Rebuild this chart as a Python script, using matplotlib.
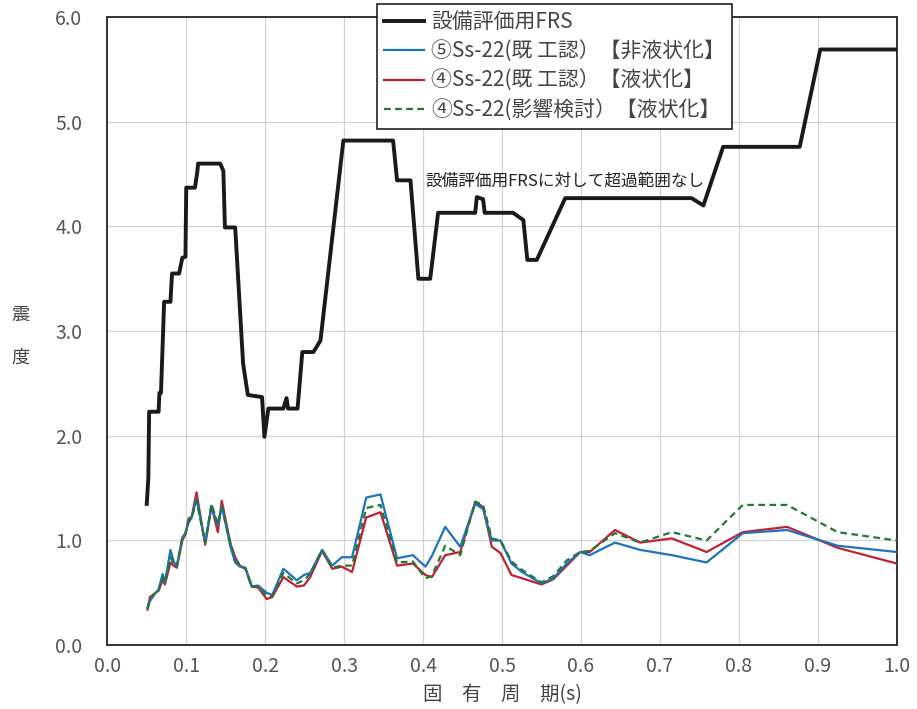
import matplotlib
matplotlib.use('Agg')
import matplotlib.pyplot as plt
from matplotlib.ticker import MultipleLocator, FormatStrFormatter

plt.rcParams['font.family'] = ['Noto Sans CJK JP', 'DejaVu Sans']

# 設備評価用FRS
frs_x = [0.050, 0.052, 0.053, 0.065, 0.066, 0.068, 0.072, 0.080, 0.082, 0.091, 0.095,
         0.099, 0.100, 0.111, 0.114, 0.115, 0.143, 0.147, 0.149, 0.162, 0.172, 0.178,
         0.196, 0.199, 0.204, 0.223, 0.227, 0.229, 0.241, 0.247, 0.261, 0.270, 0.299,
         0.362, 0.367, 0.384, 0.394, 0.409, 0.419, 0.466, 0.468, 0.476, 0.478, 0.514,
         0.527, 0.532, 0.544, 0.580, 0.740, 0.755, 0.780, 0.877, 0.903, 1.000]
frs_y = [1.35, 1.60, 2.23, 2.23, 2.41, 2.41, 3.28, 3.28, 3.55, 3.55, 3.70,
         3.71, 4.37, 4.37, 4.52, 4.60, 4.60, 4.53, 3.99, 3.99, 2.69, 2.39,
         2.37, 1.99, 2.26, 2.26, 2.36, 2.26, 2.26, 2.80, 2.80, 2.91, 4.82,
         4.82, 4.44, 4.44, 3.50, 3.50, 4.13, 4.13, 4.28, 4.26, 4.13, 4.13,
         4.06, 3.68, 3.68, 4.27, 4.27, 4.20, 4.76, 4.76, 5.69, 5.69]

# 応答スペクトル (共通周期)
period = [0.051, 0.054, 0.061, 0.065, 0.070, 0.073, 0.080, 0.084, 0.088, 0.095,
          0.099, 0.103, 0.107, 0.113, 0.124, 0.132, 0.140, 0.145, 0.156, 0.162,
          0.168, 0.175, 0.183, 0.191, 0.202, 0.209, 0.223, 0.240, 0.249, 0.257,
          0.272, 0.285, 0.297, 0.310, 0.328, 0.346, 0.367, 0.387, 0.403, 0.411,
          0.428, 0.447, 0.466, 0.476, 0.487, 0.498, 0.512, 0.525, 0.550, 0.565,
          0.582, 0.599, 0.611, 0.643, 0.675, 0.715, 0.759, 0.805, 0.861, 0.925,
          1.000]
s5_kiko = [0.36, 0.42, 0.50, 0.53, 0.68, 0.60, 0.91, 0.80, 0.75, 1.03,
           1.07, 1.17, 1.22, 1.40, 0.98, 1.33, 1.14, 1.33, 0.94, 0.79,
           0.75, 0.74, 0.56, 0.57, 0.50, 0.48, 0.73, 0.62, 0.67, 0.69,
           0.91, 0.76, 0.84, 0.84, 1.41, 1.44, 0.83, 0.86, 0.75, 0.85,
           1.13, 0.94, 1.35, 1.30, 1.00, 1.00, 0.78, 0.70, 0.59, 0.64,
           0.78, 0.89, 0.86, 0.98, 0.91, 0.86, 0.79, 1.07, 1.10, 0.95,
           0.89]
s4_kiko = [0.34, 0.46, 0.50, 0.52, 0.62, 0.58, 0.79, 0.76, 0.74, 1.00,
           1.06, 1.21, 1.23, 1.46, 0.96, 1.33, 1.08, 1.38, 0.97, 0.84,
           0.76, 0.73, 0.56, 0.55, 0.44, 0.46, 0.65, 0.56, 0.57, 0.65,
           0.90, 0.73, 0.75, 0.70, 1.22, 1.27, 0.76, 0.78, 0.67, 0.65,
           0.86, 0.89, 1.37, 1.32, 0.94, 0.88, 0.67, 0.64, 0.58, 0.63,
           0.76, 0.89, 0.89, 1.10, 0.98, 1.02, 0.89, 1.08, 1.13, 0.93,
           0.78]
s4_eikyo = [0.35, 0.44, 0.50, 0.53, 0.65, 0.60, 0.84, 0.78, 0.75, 1.02,
            1.07, 1.19, 1.22, 1.38, 0.98, 1.35, 1.16, 1.32, 0.97, 0.82,
            0.76, 0.73, 0.56, 0.56, 0.47, 0.47, 0.69, 0.59, 0.62, 0.68,
            0.91, 0.74, 0.76, 0.76, 1.31, 1.34, 0.79, 0.80, 0.64, 0.66,
            0.95, 0.86, 1.37, 1.34, 1.02, 1.00, 0.80, 0.72, 0.60, 0.66,
            0.81, 0.89, 0.90, 1.07, 0.98, 1.08, 1.00, 1.34, 1.34, 1.08,
            1.00]

labels = ['設備評価用FRS',
          '⑤Ss-22(既 工認）【非液状化】',
          '④Ss-22(既 工認）【液状化】',
          '④Ss-22(影響検討）【液状化】']

fig = plt.figure(figsize=(9.17, 7.09), dpi=100)
ax = fig.add_axes([0.117, 0.090, 0.861, 0.886])

ax.plot(frs_x, frs_y, color='#1a1a1a', lw=2.8, label=labels[0], zorder=5)
ax.plot(period, s5_kiko, color='#1f72c0', lw=1.6, label=labels[1], zorder=4)
ax.plot(period, s4_kiko, color='#c42030', lw=1.6, label=labels[2], zorder=3)
ax.plot(period, s4_eikyo, color='#1e7a32', lw=1.6, ls=(0, (3, 2)), label=labels[3], zorder=4)

ax.set_xlim(0.0, 1.0)
ax.set_ylim(0.0, 6.0)
ax.xaxis.set_major_locator(MultipleLocator(0.1))
ax.yaxis.set_major_locator(MultipleLocator(1.0))
ax.xaxis.set_major_formatter(FormatStrFormatter('%.1f'))
ax.yaxis.set_major_formatter(FormatStrFormatter('%.1f'))
ax.grid(True, color='#d4d4d4', lw=0.9)
ax.set_axisbelow(True)
ax.tick_params(axis='x', length=0, pad=8, labelsize=14, labelcolor='#555555')
ax.tick_params(axis='y', length=0, pad=18, labelsize=14, labelcolor='#555555')
for sp in ax.spines.values():
    sp.set_color('#333333')
    sp.set_linewidth(1.4)

ax.set_xlabel('固　有　周　期(s)', fontsize=14, color='#444444', labelpad=5)
# 縦書きの軸ラベル
fig.text(0.022, 1 - 315 / 709, '震', fontsize=13, color='#444444', ha='center', va='center')
fig.text(0.022, 1 - 358 / 709, '度', fontsize=13, color='#444444', ha='center', va='center')

ax.text(0.403, 4.43, '設備評価用FRSに対して超過範囲なし', fontsize=12, color='#222222',
        ha='left', va='center')

leg = fig.legend(loc='upper left', bbox_to_anchor=(377 / 917, 1 - 4 / 709),
                 fontsize=15, handlelength=1.9, handletextpad=0.35, labelspacing=0.35,
                 borderpad=0.35, borderaxespad=0, fancybox=False, framealpha=1,
                 edgecolor='#222222')
leg.get_frame().set_linewidth(1.2)
for t in leg.get_texts():
    t.set_color('#444444')

plt.savefig('out.png', dpi=100)
